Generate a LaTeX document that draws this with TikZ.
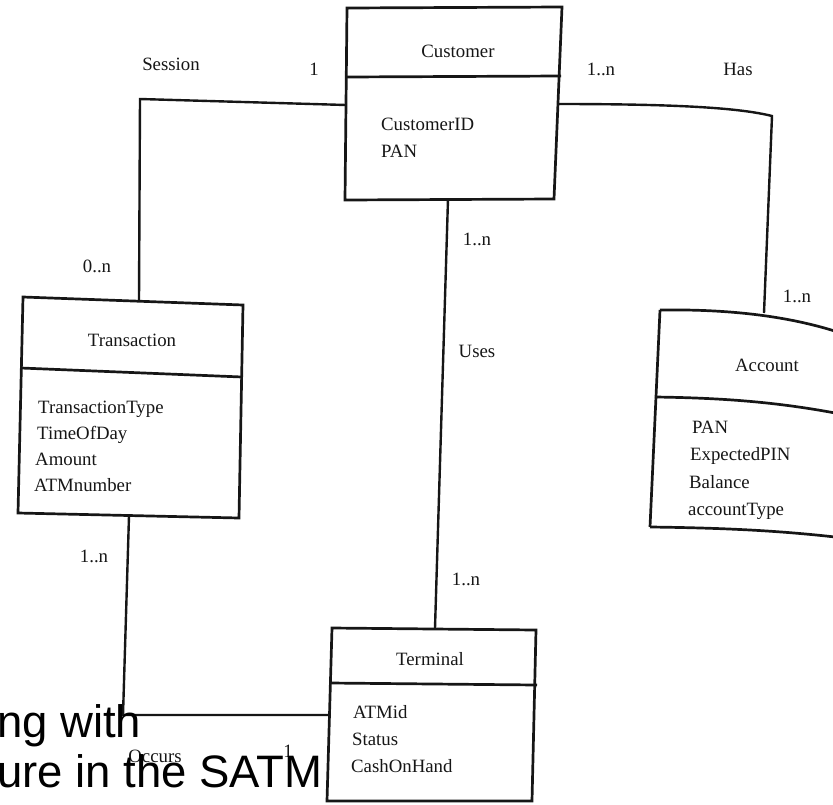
\documentclass[tikz,border=0pt]{standalone}
\usepackage{fontspec}
\setmainfont{Liberation Serif}
\setsansfont{Liberation Sans}
\definecolor{ink}{HTML}{161616}
\begin{document}
\begin{tikzpicture}[x=1pt,y=-1pt,
  box/.style={draw=ink, line width=2.7pt, line join=miter},
  link/.style={draw=ink, line width=2.4pt, line join=miter},
  lbl/.style={font=\fontsize{18.8}{20}\selectfont, text=ink, inner sep=0pt, anchor=base},
  attr/.style={font=\fontsize{18.8}{20}\selectfont, text=ink, inner sep=0pt, anchor=base west},
  bigtext/.style={font=\sffamily\fontsize{45.5}{50}\selectfont, text=black, inner sep=0pt, anchor=base west}
]
\useasboundingbox (0,0) rectangle (833,804);
\clip (0,0) rectangle (833,804);

% ---------- Customer ----------
\coordinate (c-tl) at (347,8);   \coordinate (c-tr) at (562,7);
\coordinate (c-br) at (554,199); \coordinate (c-bl) at (345,200);
\coordinate (c-dl) at (346,77);  \coordinate (c-dr) at (561,76);
\draw[box] (c-tl) -- (c-tr) -- (c-br) -- (c-bl) -- cycle;
\draw[box] (c-dl) -- (c-dr);
\node[lbl]  (cust)    at (458,57)  {Customer};
\node[attr] (cust-a1) at (381,130) {CustomerID};
\node[attr] (cust-a2) at (381,157) {PAN};
\coordinate (c-west)  at (346,105);
\coordinate (c-east)  at (558,104);
\coordinate (c-south) at (448,199);

% ---------- Transaction ----------
\coordinate (t-tl) at (23,297);  \coordinate (t-tr) at (243,305);
\coordinate (t-br) at (239,518); \coordinate (t-bl) at (18,513);
\coordinate (t-dl) at (21,368);  \coordinate (t-dr) at (242,377);
\draw[box] (t-tl) -- (t-tr) -- (t-br) -- (t-bl) -- cycle;
\draw[box] (t-dl) -- (t-dr);
\node[lbl]  (trans)    at (132,346) {Transaction};
\node[attr] (trans-a1) at (38,413)  {TransactionType};
\node[attr] (trans-a2) at (37,439)  {TimeOfDay};
\node[attr] (trans-a3) at (35,465)  {Amount};
\node[attr] (trans-a4) at (34,491)  {ATMnumber};
\coordinate (t-north) at (139,301);
\coordinate (t-south) at (129,516);

% ---------- Terminal ----------
\coordinate (m-tl) at (332,628); \coordinate (m-tr) at (536,630);
\coordinate (m-br) at (532,801); \coordinate (m-bl) at (327,801);
\coordinate (m-dl) at (330,683); \coordinate (m-dr) at (537,685);
\draw[box] (m-tl) -- (m-tr) -- (m-br) -- (m-bl) -- cycle;
\draw[box] (m-dl) -- (m-dr);
\node[lbl]  (term)    at (430,665) {Terminal};
\node[attr] (term-a1) at (353,718) {ATMid};
\node[attr] (term-a2) at (352,745) {Status};
\node[attr] (term-a3) at (351,772) {CashOnHand};
\coordinate (m-north) at (435,628);
\coordinate (m-west)  at (329,715);

% ---------- Account (page curls away on the right) ----------
\coordinate (a-tl) at (660,310);
\coordinate (a-bl) at (650,527);
\coordinate (a-dl) at (655,397);
\draw[box] (a-tl) .. controls (730,309) and (800,316) .. (860,340);
\draw[box] (a-dl) .. controls (730,398) and (790,403) .. (860,418);
\draw[box] (a-bl) .. controls (730,528) and (790,531) .. (860,540);
\draw[box] (a-tl) -- (a-bl);
\node[lbl]  (acct)    at (767,371) {Account};
\node[attr] (acct-a1) at (692,433) {PAN};
\node[attr] (acct-a2) at (690,460) {ExpectedPIN};
\node[attr] (acct-a3) at (689,488) {Balance};
\node[attr] (acct-a4) at (688,515) {accountType};
\coordinate (a-north) at (764,313);

% ---------- Associations ----------
\coordinate (sess-bend) at (140,99);
\draw[link] (c-west) -- (sess-bend) -- (t-north);

\coordinate (has-bend) at (772,116);
\draw[link] (c-east) .. controls (680,104) and (740,108) .. (has-bend) -- (a-north);

\draw[link] (c-south) -- (m-north);

\coordinate (occ-bend) at (123,715);
\draw[link] (t-south) -- (occ-bend) -- (m-west);

% ---------- Association names and multiplicities ----------
\node[lbl] (session) at (171,70)  {Session};
\node[lbl] (m-sess1) at (314,75)  {1};
\node[lbl] (m-sess2) at (97,272)  {0..n};
\node[lbl] (m-has1)  at (601,75)  {1..n};
\node[lbl] (has)     at (738,75)  {Has};
\node[lbl] (m-has2)  at (797,302) {1..n};
\node[lbl] (m-uses1) at (477,245) {1..n};
\node[lbl] (uses)    at (477,357) {Uses};
\node[lbl] (m-uses2) at (466,585) {1..n};
\node[lbl] (m-occ1)  at (94,562)  {1..n};
\node[lbl] (occurs)  at (155,762) {Occurs};
\node[lbl] (m-occ2)  at (288,757) {1};

% ---------- Slide text lying over the figure ----------
\node[bigtext] (slide1) at (-3,737) {ng with};
\node[bigtext] (slide2) at (-3,787) {ure in the SATM};
\end{tikzpicture}
\end{document}
